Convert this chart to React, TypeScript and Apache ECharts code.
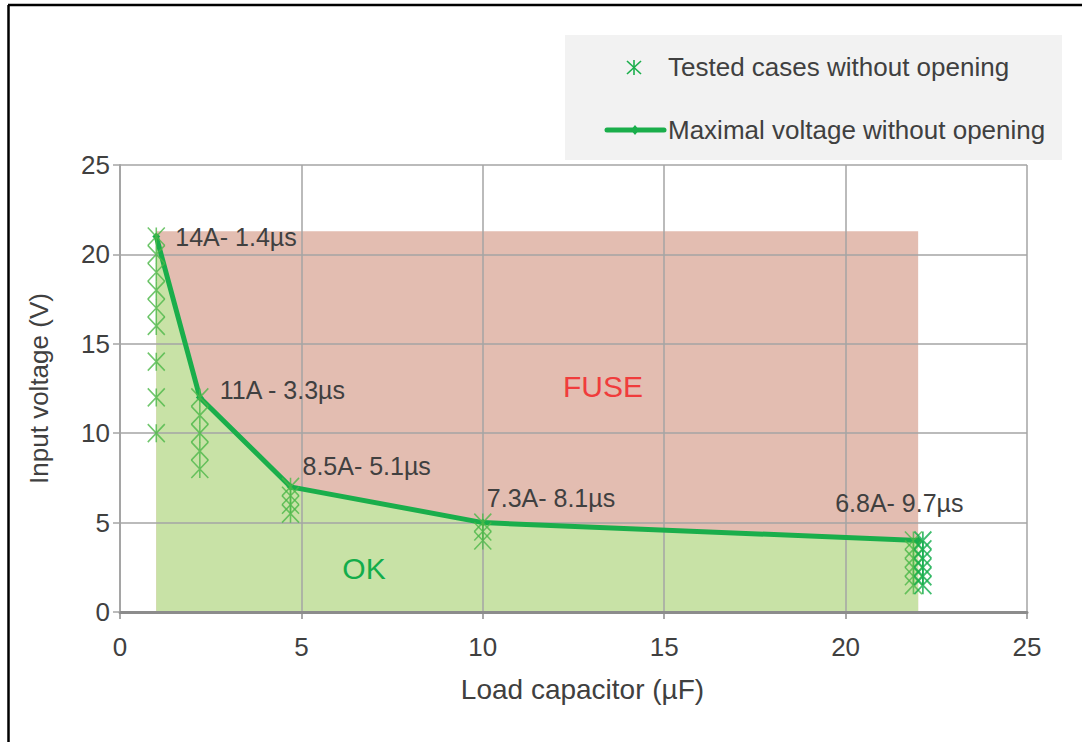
import React, { useEffect, useRef } from "react";
import * as echarts from "echarts";

// Maximal voltage without opening (line)
const lineX = [1, 2.2, 4.7, 10, 22];
const lineY = [21, 12, 7, 5, 4];
const pointLabels = ["14A- 1.4µs", "11A - 3.3µs", "8.5A- 5.1µs", "7.3A- 8.1µs", "6.8A- 9.7µs"];

// Tested cases without opening (scatter)
const testedX = [1, 1, 1, 1, 1, 1, 1, 1, 1, 2.2, 2.2, 2.2, 2.2, 2.2, 4.7, 4.7, 4.7, 4.7, 10, 10, 10, 21.87, 21.87, 21.87, 21.87, 21.87, 21.87];
const testedY = [10, 12, 14, 16, 17, 18, 19, 20, 21, 8, 9, 10, 11, 12, 5.5, 6, 6.5, 7, 4, 4.5, 5, 1.5, 2, 2.5, 3, 3.5, 4];
const testedDarkX = [22.13, 22.13, 22.13, 22.13, 22.13, 22.13];
const testedDarkY = [1.5, 2, 2.5, 3, 3.5, 4];

// Regions
const regionX = [1, 22];
const fuseTop = 21.3;

const xMin = 0, xMax = 25, xStep = 5;
const yMin = 0, yMax = 25, yStep = 5;

const FONT = "Liberation Sans, Arial, sans-serif";
const TEXT = "#404040";

export default function App() {
  const ref = useRef<HTMLDivElement>(null);
  useEffect(() => {
    const chart = echarts.init(ref.current!, undefined, { renderer: "svg" });
    const labelOffsets = [[10, 0], [11, -7], [3, -21], [-5, -25], [-92, -37]];
    const asterisk = "path://M0 0L16 18M16 0L0 18M8 0L8 18";
    chart.setOption({
      animation: false,
      textStyle: { fontFamily: FONT },
      grid: { left: 120, right: 55, top: 165, bottom: 130 },
      xAxis: {
        type: "value", min: xMin, max: xMax, interval: xStep,
        name: "Load capacitor (µF)", nameLocation: "middle", nameGap: 63,
        nameTextStyle: { fontSize: 28, color: TEXT, fontFamily: FONT, padding: [0, 0, 0, 18] },
        axisLine: { show: true, onZero: false, lineStyle: { color: "#8c8c8c", width: 3 } },
        axisTick: { show: true, inside: false, length: 7, lineStyle: { color: "#8c8c8c", width: 1.5 } },
        axisLabel: { fontSize: 26, color: TEXT, margin: 22, fontFamily: FONT },
        splitLine: { show: true, lineStyle: { color: "#a5a5a5", width: 1.5 } },
      },
      yAxis: {
        type: "value", min: yMin, max: yMax, interval: yStep,
        name: "Input voltage (V)", nameLocation: "middle", nameGap: 68,
        nameTextStyle: { fontSize: 26, color: TEXT, fontFamily: FONT },
        axisLine: { show: true, lineStyle: { color: "#a5a5a5", width: 2 } },
        axisTick: { show: true, inside: false, length: 7, lineStyle: { color: "#a5a5a5", width: 1.5 } },
        axisLabel: { fontSize: 26, color: TEXT, margin: 10, fontFamily: FONT },
        splitLine: { show: true, lineStyle: { color: "#a5a5a5", width: 1.5 } },
      },
      series: [
        {
          name: "FUSE region", type: "line", z: -2, silent: true,
          data: regionX.map((x) => [x, fuseTop]),
          symbol: "none", lineStyle: { width: 0 },
          areaStyle: { color: "#e3bdb1", opacity: 1 },
        },
        {
          name: "OK region", type: "line", z: -1, silent: true,
          data: lineX.map((x, i) => [x, lineY[i]]),
          symbol: "none", lineStyle: { width: 0 },
          areaStyle: { color: "#c8e2a6", opacity: 1 },
        },
        {
          name: "Maximal voltage without opening", type: "line", z: 3,
          data: lineX.map((x, i) => ({
            value: [x, lineY[i]],
            label: { offset: labelOffsets[i] },
          })),
          symbol: "diamond", symbolSize: 8,
          itemStyle: { color: "#1aae4b" },
          lineStyle: { color: "#1aae4b", width: 5 },
          label: {
            show: true, position: "right", distance: 5,
            formatter: (p: any) => pointLabels[p.dataIndex],
            fontSize: 25, color: TEXT, fontFamily: FONT,
          },
        },
        {
          name: "Tested cases without opening", type: "scatter", z: 4,
          data: testedX.map((x, i) => [x, testedY[i]]),
          symbol: asterisk, symbolSize: [17, 18], symbolKeepAspect: false,
          itemStyle: { color: "none", borderColor: "#4cb848", borderWidth: 1.6 },
        },
        {
          name: "Tested cases without opening (2)", type: "scatter", z: 4,
          data: testedDarkX.map((x, i) => [x, testedDarkY[i]]),
          symbol: asterisk, symbolSize: [17, 18], symbolKeepAspect: false,
          itemStyle: { color: "none", borderColor: "#12ad4b", borderWidth: 1.8 },
        },
      ],
      graphic: [
        { type: "line", shape: { x1: 8, y1: 5, x2: 1082, y2: 5 }, style: { stroke: "#000", lineWidth: 2.5 } },
        { type: "line", shape: { x1: 8.5, y1: 5, x2: 8.5, y2: 742 }, style: { stroke: "#000", lineWidth: 2.5 } },
        { type: "rect", shape: { x: 565, y: 35, width: 497, height: 125 }, style: { fill: "#f2f2f2" }, z: -10 },
        {
          type: "group", children: [
            { type: "line", shape: { x1: 627, y1: 61, x2: 641, y2: 74 }, style: { stroke: "#1aae4b", lineWidth: 1.6 } },
            { type: "line", shape: { x1: 641, y1: 61, x2: 627, y2: 74 }, style: { stroke: "#1aae4b", lineWidth: 1.6 } },
            { type: "line", shape: { x1: 634, y1: 60, x2: 634, y2: 75 }, style: { stroke: "#1aae4b", lineWidth: 1.6 } },
          ],
        },
        { type: "text", x: 668, y: 67, style: { text: "Tested cases without opening", fill: TEXT, font: `26px ${FONT}`, verticalAlign: "middle" } },
        { type: "line", shape: { x1: 607, y1: 130, x2: 664, y2: 130 }, style: { stroke: "#1aae4b", lineWidth: 5, lineCap: "round" } },
        { type: "polygon", shape: { points: [[635, 125], [639, 130], [635, 135], [631, 130]] }, style: { fill: "#1aae4b" } },
        { type: "text", x: 668, y: 130, style: { text: "Maximal voltage without opening", fill: TEXT, font: `26px ${FONT}`, verticalAlign: "middle" } },
        { type: "text", x: 603, y: 386, style: { text: "FUSE", fill: "#f03c3c", font: `30px ${FONT}`, align: "center", verticalAlign: "middle" } },
        { type: "text", x: 364, y: 568, style: { text: "OK", fill: "#13ad4b", font: `30px ${FONT}`, align: "center", verticalAlign: "middle" } },
      ],
    });
    return () => chart.dispose();
  }, []);
  return <div ref={ref} style={{ position: "absolute", left: 0, top: 0, width: 1082, height: 742, background: "#fff" }} />;
}
